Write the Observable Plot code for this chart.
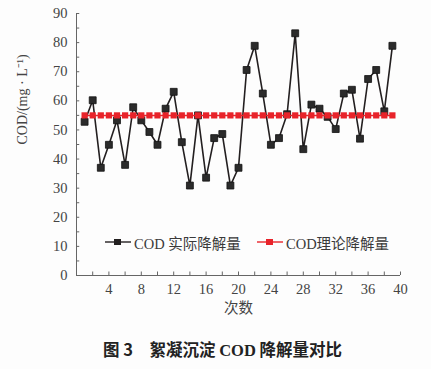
<!DOCTYPE html>
<html><head><meta charset="utf-8">
<script src="https://cdn.jsdelivr.net/npm/d3@7"></script>
<script src="https://cdn.jsdelivr.net/npm/@observablehq/plot@0.6"></script>
<style>
body{margin:0;background:#fdfdfd;}
#wrap{position:relative;width:431px;height:369px;background:#fdfdfd;font-family:"Liberation Serif","Times New Roman","Noto Sans CJK SC",serif;color:#3a3a3a;}
#legend{position:absolute;top:232px;left:0;width:431px;height:20px;font-size:14.5px;}
.item{position:absolute;top:0;display:flex;align-items:center;height:20px;white-space:nowrap;}
.item span{font-family:"Liberation Serif","Times New Roman","Noto Sans CJK SC",serif;}
#caption{position:absolute;top:337px;left:0;width:431px;text-align:center;font-family:"Noto Sans CJK SC",sans-serif;font-weight:bold;font-size:16.5px;color:#222;padding-left:14px;box-sizing:border-box;}
#caption .lat{font-family:"Liberation Serif","Times New Roman",serif;font-weight:bold;}
</style></head>
<body>
<div id="wrap">
<div id="chart"></div>
<div id="legend"></div>
<div id="caption"></div>
</div>
<script>
const runs = d3.range(1, 40);
const actual = [52.8,60.2,37.0,44.9,53.3,38.0,57.8,53.3,49.3,44.9,57.3,63.1,45.8,30.9,55.0,33.6,47.2,48.6,30.9,37.0,70.6,78.9,62.5,44.9,47.2,55.4,83.2,43.4,58.7,57.3,54.5,50.3,62.5,63.8,47.0,67.5,70.6,56.4,78.9];
const theory = runs.map(() => 55);
const seriesNames = ["COD 实际降解量", "COD理论降解量"];
const xTicks = [4,8,12,16,20,24,28,32,36,40];
const xMinor = d3.range(0, 41, 2);
const yTicks = [0,10,20,30,40,50,60,70,80,90];
const yMinor = d3.range(0, 91, 5);
const yLabel = "COD/(mg · L⁻¹)";
const xLabel = "次数";
const captionParts = ["图 3\u3000絮凝沉淀 ", "COD", " 降解量对比"];

const actualData = runs.map((r, i) => ({x: r, y: actual[i]}));
const theoryData = runs.map((r, i) => ({x: r, y: theory[i]}));
const black = "#231f20", red = "#e8232a", axisColor = "#666", textColor = "#444";
const serif = "Liberation Serif, Times New Roman, serif";

const plot = Plot.plot({
  width: 431, height: 325,
  marginLeft: 76, marginRight: 31, marginTop: 13, marginBottom: 50,
  style: {fontFamily: serif, fontSize: "14px", color: textColor, background: "transparent"},
  x: {domain: [0, 40]},
  y: {domain: [0, 90]},
  marks: [
    Plot.ruleY([0], {stroke: axisColor, strokeWidth: 1}),
    Plot.ruleX([0], {stroke: axisColor, strokeWidth: 1}),
    Plot.ruleX(xMinor, {x: d => d, y1: 0, y2: 1.2, stroke: axisColor}),
    Plot.ruleY(yMinor, {y: d => d, x1: 0, x2: 0.4, stroke: axisColor}),
    Plot.axisX({ticks: xTicks, tickSize: 0, tickPadding: 8, label: null, fontSize: 14.5, fontFamily: serif, fill: textColor}),
    Plot.axisY({ticks: yTicks, tickSize: 0, tickPadding: 9, label: null, fontSize: 14.5, fontFamily: serif, fill: textColor}),
    Plot.text([xLabel], {frameAnchor: "bottom", dy: 37, fontFamily: "Noto Sans CJK SC", fontSize: 14.5, fill: textColor}),
    Plot.text([yLabel], {frameAnchor: "left", dx: -54, rotate: -90, fontSize: 14, fontFamily: serif, fill: textColor}),
    Plot.line(actualData, {x: "x", y: "y", stroke: black, strokeWidth: 1.6}),
    Plot.dot(actualData, {x: "x", y: "y", symbol: "square", r: 3.9, fill: "#2b2b2b", stroke: "#111", strokeWidth: 0.8}),
    Plot.line(theoryData, {x: "x", y: "y", stroke: red, strokeWidth: 1.5}),
    Plot.dot(theoryData, {x: "x", y: "y", symbol: "square", r: 3.5, fill: red})
  ]
});
document.getElementById("chart").appendChild(plot);

const legend = document.getElementById("legend");
const items = [
  {name: seriesNames[0], color: black, left: 104},
  {name: seriesNames[1], color: red, left: 256}
];
for (const it of items) {
  const d = document.createElement("div");
  d.className = "item";
  d.style.left = it.left + "px";
  d.innerHTML = `<svg width="28" height="20"><line x1="1" x2="27" y1="10" y2="10" stroke="${it.color}" stroke-width="1.4"/><rect x="10" y="7" width="7" height="6" fill="${it.color}"/></svg><span style="margin-left:2px">${it.name}</span>`;
  legend.appendChild(d);
}
const cap = document.getElementById("caption");
cap.innerHTML = `${captionParts[0]}<span class="lat">${captionParts[1]}</span>${captionParts[2]}`;
</script>
</body></html>
